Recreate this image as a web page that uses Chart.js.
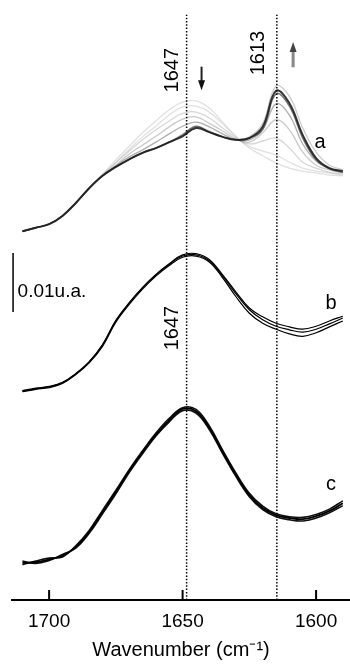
<!DOCTYPE html>
<html>
<head>
<meta charset="utf-8">
<script src="https://cdn.jsdelivr.net/npm/chart.js@4.4.1/dist/chart.umd.min.js"></script>
<style>
  html, body { margin: 0; padding: 0; background: #fff; }
</style>
</head>
<body>
<canvas id="chart" width="350" height="668"></canvas>
<script>
// wavenumber grid (cm-1), absorbance in units of 0.001 a.u. (stack offsets included)
const wavenumbers = [1710,1705,1700,1695,1690,1685,1680,1675,1670,1665,1660,1655,1650,1645,1640,1635,1630,1625,1620,1615,1610,1605,1600,1595,1590]

// trace a: time series, light (early) -> dark (late)
const aStart = [62.5,63.1,63.7,65.1,67.3,69.8,72.2,74.6,76.9,79.2,81.2,83.1,84.4,84.6,83.4,81.0,78.6,76.6,75.3,74.1,73.2,72.7,72.4,72.0,71.9]
const aStep1 = [62.5,63.1,63.7,65.1,67.3,69.8,72.0,74.2,76.4,78.5,80.3,82.2,83.6,83.7,82.7,80.7,78.5,76.9,76.1,75.4,74.2,73.2,72.7,72.4,72.0]
const aStep2 = [62.5,63.1,63.7,65.1,67.3,69.8,72.0,74.1,76.1,78.0,79.7,81.2,82.5,82.7,81.7,80.0,78.3,77.3,77.8,78.3,76.6,74.2,73.2,72.5,72.2]
const aStep3 = [62.5,63.1,63.7,65.1,67.3,69.8,71.9,73.7,75.6,77.1,78.6,80.2,81.5,81.9,80.8,79.5,78.1,77.6,79.2,81.4,79.7,75.9,73.7,72.9,72.4]
const aStep4 = [62.5,63.1,63.7,65.1,67.3,69.8,71.9,73.6,75.1,76.3,77.6,79.0,80.3,81.0,80.2,79.0,78.0,78.0,79.7,84.1,82.2,77.3,74.4,73.1,72.5]
const aMax   = [62.5,63.1,63.7,65.1,67.3,69.8,71.9,73.4,74.7,75.8,76.6,77.6,79.0,80.2,79.5,78.5,78.0,78.5,80.8,87.1,85.4,80.0,75.9,73.7,72.9]
const aLate  = [62.5,63.1,63.7,65.1,67.3,69.8,71.9,73.4,74.7,75.8,76.6,77.6,78.8,80.3,79.3,78.5,78.0,78.3,79.8,85.8,83.7,78.3,74.6,73.1,72.5]
const aFinal = [62.5,63.1,63.7,65.1,67.3,69.8,71.9,73.4,74.7,75.8,76.6,77.6,78.6,80.0,79.3,78.5,78.0,78.3,80.2,86.3,84.2,78.8,74.9,73.2,72.7]

// trace b
const b1 = [35.4,35.8,36.1,36.8,38.3,40.3,43.2,47.3,50.3,52.9,55.1,56.9,58.3,58.5,57.5,54.9,51.9,49.2,47.5,46.4,45.8,45.4,45.9,46.8,47.8]
const b2 = [35.3,35.7,36.0,36.7,38.2,40.2,43.0,47.1,50.1,52.7,54.9,56.7,58.1,58.3,57.3,54.6,51.4,48.6,46.9,45.9,45.1,44.7,45.3,46.3,47.3]
const b3 = [35.5,35.9,36.2,36.9,38.4,40.4,43.3,47.4,50.4,53.0,55.2,57.0,58.5,58.7,57.7,55.1,52.2,49.5,48.0,46.9,46.3,45.9,46.4,47.3,48.1]

// trace c
const c1 = [6.3,6.4,6.9,7.5,9.0,11.5,14.9,18.3,21.9,25.1,28.0,30.5,32.4,32.0,29.2,25.1,21.2,17.8,15.6,14.4,13.9,13.7,14.2,15.1,16.4]
const c2 = [6.0,6.6,7.1,7.3,9.2,11.8,15.2,18.6,22.1,25.3,28.3,30.8,32.6,32.3,29.5,25.4,21.5,18.1,15.9,14.6,14.1,14.0,14.5,15.4,16.8]
const c3 = [6.6,6.2,6.7,7.7,8.8,11.3,14.6,18.0,21.6,24.8,27.8,30.2,32.1,31.7,28.9,24.8,20.9,17.5,15.3,14.1,13.6,13.4,13.9,14.8,16.0]

const tickValues = [1700, 1650, 1600]
const markerLines = [1648.5, 1614.7]
const markerTop = 99.2

const FONT = "'Liberation Sans', Arial, Helvetica, sans-serif"

function trace (values, color, width) {
    return {
        data: wavenumbers.map((w, i) => ({ x: w, y: values[i] })),
        borderColor: color,
        borderWidth: width,
        pointRadius: 0,
        tension: 0.4,
        fill: false
    }
}

function marker (w) {
    return {
        data: [{ x: w, y: 0 }, { x: w, y: markerTop }],
        borderColor: '#000',
        borderWidth: 1.5,
        borderDash: [1.5, 1.8],
        pointRadius: 0,
        fill: false
    }
}

const axisTicks = {
    id: 'axisTicks',
    afterDraw (chart) {
        const { ctx, chartArea } = chart
        const x = chart.scales.x
        ctx.save()
        ctx.strokeStyle = '#000'
        ctx.lineWidth = 2
        tickValues.forEach(v => {
            const px = x.getPixelForValue(v)
            ctx.beginPath()
            ctx.moveTo(px, chartArea.bottom)
            ctx.lineTo(px, chartArea.bottom - 10)
            ctx.stroke()
        })
        ctx.restore()
    }
}

const annotations = {
    id: 'annotations',
    afterDatasetsDraw (chart) {
        const { ctx } = chart
        const x = chart.scales.x
        const y = chart.scales.y
        ctx.save()
        ctx.fillStyle = '#000'
        ctx.textAlign = 'center'
        ctx.textBaseline = 'middle'

        // trace letters
        ctx.font = '20px ' + FONT
        ctx.fillText('a', x.getPixelForValue(1598.5), y.getPixelForValue(77.5))
        ctx.fillText('b', x.getPixelForValue(1594.4), y.getPixelForValue(50.3))
        ctx.fillText('c', x.getPixelForValue(1594.4), y.getPixelForValue(19.5))

        // rotated band labels
        const rotated = (text, w, v) => {
            ctx.save()
            ctx.translate(x.getPixelForValue(w), y.getPixelForValue(v))
            ctx.rotate(-Math.PI / 2)
            ctx.fillText(text, 0, 0)
            ctx.restore()
        }
        rotated('1647', 1653.8, 89.8)
        rotated('1613', 1621.4, 92.7)
        rotated('1647', 1653.8, 46.1)

        // arrows
        const arrow = (w, vFrom, vTo, shaftColor, headColor, shaftWidth) => {
            const px = x.getPixelForValue(w)
            const p0 = y.getPixelForValue(vFrom)
            const p1 = y.getPixelForValue(vTo)
            const dir = Math.sign(p1 - p0)
            ctx.strokeStyle = shaftColor
            ctx.lineWidth = shaftWidth
            ctx.beginPath()
            ctx.moveTo(px, p0)
            ctx.lineTo(px, p1 - dir * 8)
            ctx.stroke()
            ctx.fillStyle = headColor
            ctx.beginPath()
            ctx.moveTo(px, p1)
            ctx.lineTo(px - 3.5, p1 - dir * 10)
            ctx.lineTo(px + 3.5, p1 - dir * 10)
            ctx.closePath()
            ctx.fill()
        }
        arrow(1642.9, 90.4, 86.4, '#222', '#111', 2)
        arrow(1608.6, 90.3, 94.6, '#888', '#444', 3)

        // scale bar 0.01 a.u.
        ctx.strokeStyle = '#000'
        ctx.lineWidth = 1.5
        const bx = x.getPixelForValue(1713.5)
        ctx.beginPath()
        ctx.moveTo(bx, y.getPixelForValue(48.8))
        ctx.lineTo(bx, y.getPixelForValue(58.8))
        ctx.stroke()
        ctx.fillStyle = '#000'
        ctx.textAlign = 'left'
        ctx.font = '19px ' + FONT
        ctx.fillText('0.01u.a.', x.getPixelForValue(1711.8), y.getPixelForValue(52.2))
        ctx.restore()
    }
}

const ctx = document.getElementById('chart').getContext('2d')
const chart = new Chart(ctx, {
    type: 'line',
    data: {
        datasets: [
            marker(markerLines[0]),
            marker(markerLines[1]),
            trace(aFinal, 'rgba(30,30,30,0.9)', 2),
            trace(aLate, 'rgba(80,80,80,0.8)', 1.5),
            trace(aStep4, 'rgba(120,120,120,0.6)', 1.3),
            trace(aMax, 'rgba(170,170,170,0.6)', 1.3),
            trace(aStep3, 'rgba(150,150,150,0.5)', 1.3),
            trace(aStep2, 'rgba(175,175,175,0.5)', 1.3),
            trace(aStep1, 'rgba(195,195,195,0.5)', 1.3),
            trace(aStart, 'rgba(205,205,205,0.6)', 1.3),
            trace(b1, '#000', 1.2),
            trace(b2, '#000', 1.2),
            trace(b3, '#000', 1.2),
            trace(c1, '#000', 1.8),
            trace(c2, '#111', 1.6),
            trace(c3, '#111', 1.6)
        ]
    },
    options: {
        responsive: false,
        animation: false,
        layout: { padding: { left: 12, right: 0, top: 0, bottom: 0 } },
        plugins: {
            legend: { display: false },
            tooltip: { enabled: false }
        },
        scales: {
            x: {
                type: 'linear',
                reverse: true,
                min: 1587.3,
                max: 1713.9,
                afterBuildTicks: s => { s.ticks = tickValues.map(v => ({ value: v })) },
                afterFit: s => { s.height = 68 },
                grid: { display: false, drawTicks: false },
                border: { display: true, color: '#000', width: 2 },
                ticks: {
                    color: '#000',
                    padding: 10,
                    maxRotation: 0,
                    font: { family: FONT, size: 19 },
                    callback: v => String(v)
                },
                title: {
                    display: true,
                    text: 'Wavenumber (cm\u207B\u00B9)',
                    color: '#000',
                    padding: { top: 0, bottom: 6 },
                    font: { family: FONT, size: 20 }
                }
            },
            y: {
                display: false,
                min: 0,
                max: 101.7
            }
        }
    },
    plugins: [axisTicks, annotations]
})
</script>
</body>
</html>
